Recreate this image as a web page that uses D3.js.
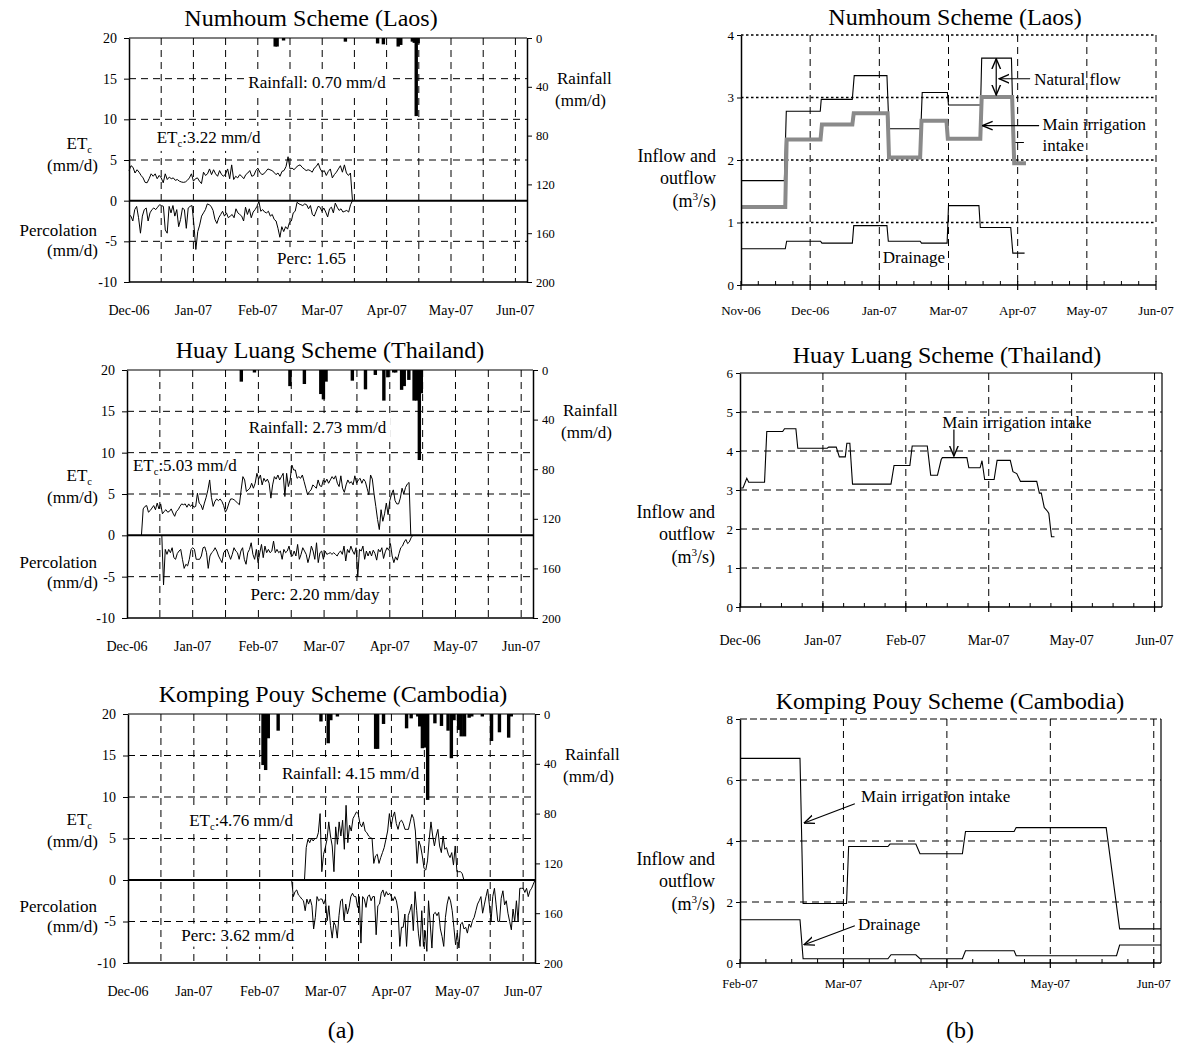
<!DOCTYPE html>
<html>
<head>
<meta charset="utf-8">
<script src="https://cdn.jsdelivr.net/npm/d3@7/dist/d3.min.js"></script>
<style>
  body { margin: 0; background: #fff; }
  svg text { font-family: "Liberation Serif", "Times New Roman", serif; fill: #000; }
</style>
</head>
<body>
<svg id="chart" width="1182" height="1049"></svg>
<script>
// ---- tick labels ----
const aMonthLabels = ['Dec-06', 'Jan-07', 'Feb-07', 'Mar-07', 'Apr-07', 'May-07', 'Jun-07'];
const b1MonthLabels = ['Nov-06', 'Dec-06', 'Jan-07', 'Mar-07', 'Apr-07', 'May-07', 'Jun-07'];
const b2MonthLabels = ['Dec-06', 'Jan-07', 'Feb-07', 'Mar-07', 'May-07', 'Jun-07'];
const b3MonthLabels = ['Feb-07', 'Mar-07', 'Apr-07', 'May-07', 'Jun-07'];
const etTicks = [-10, -5, 0, 5, 10, 15, 20];
const rainTicks = [0, 40, 80, 120, 160, 200];

// ---- (a) daily water balance, x in months after Dec-06 ----
// Numhoum (Laos)
const laosEtcSpan = [0, 3.47];
const laosEtc = [3.7, 4.3, 4.1, 3.4, 3.8, 3.5, 3.1, 2.8, 2.25, 2.2,
  2.7, 3.3, 3.0, 3.3, 2.7, 3.1, 2.8, 2.2, 3.3, 2.6,
  2.9, 2.7, 2.8, 2.5, 2.6, 2.4, 2.3, 2.25, 2.3, 2.5,
  2.8, 3.3, 2.4, 2.7, 2.8, 2.4, 2.1, 3.5, 3.1, 3.3,
  3.9, 3.2, 3.8, 3.3, 3.0, 3.7, 3.2, 3.0, 3.3, 3.9,
  2.7, 4.4, 2.6, 3.0, 2.8, 3.2, 3.0, 2.7, 3.2, 3.4,
  3.7, 3.0, 3.1, 3.7, 4.0, 3.5, 3.2, 3.3, 3.6, 3.9,
  3.8, 3.7, 3.5, 3.2, 3.4, 3.0, 3.6, 3.7, 4.2, 5.4,
  3.9, 4.0, 3.8, 4.1, 4.3, 4.4, 4.1, 3.9, 3.7, 3.8,
  3.7, 3.5, 4.0, 4.2, 4.6, 3.9, 3.5, 3.7, 3.1, 3.6,
  3.9, 2.8, 3.2, 3.5, 3.9, 4.3, 3.5, 4.4, 3.4, 3.1, 3.4, 0];
const laosPercSpan = [0, 3.47];
const laosPerc = [-1.7, -1.9, -2.5, -1.1, -0.7, -2.1, -4.0, -1.9, -1.1, -0.9,
  -2.5, -1.5, -1.1, -0.9, -1.1, -0.8, -0.5, -0.6, -0.7, -3.6,
  -4.0, -0.7, -1.5, -0.6, -1.9, -1.1, -3.2, -2.3, -0.9, -1.1,
  -3.4, -0.9, -0.7, -0.6, -3.0, -6.0, -3.8, -3.0, -1.9, -1.5,
  -1.1, -0.4, -0.5, -0.7, -1.2, -2.3, -2.8, -2.1, -1.7, -1.3,
  -1.9, -1.5, -2.1, -1.9, -1.7, -2.1, -1.0, -1.5, -1.7, -1.9,
  -2.5, -0.8, -1.7, -1.0, -2.1, -1.4, -1.1, -0.7, -0.1, -1.3,
  -1.1, -1.4, -1.5, -1.3, -1.9, -1.7, -2.3, -2.5, -3.4, -4.5,
  -3.2, -3.8, -3.2, -3.5, -2.7, -2.5, -1.5, -1.3, -0.2, -0.4,
  -0.5, -0.6, -0.4, -0.5, -1.0, -0.6, -1.7, -1.9, -1.3, -0.7,
  -0.8, -1.3, -0.9, -1.4, -2.0, -1.0, -0.8, -1.5, -0.3, -0.8,
  -1.2, -1.0, -1.4, -1.3, -1.2, -1.4, -0.5, 0];
const laosRainMonth = [2.27, 2.30, 2.40, 3.36, 3.86, 3.95, 4.18, 4.22, 4.40, 4.43, 4.46, 4.49];
const laosRainMm = [7, 7, 2, 3, 4.5, 5.2, 7, 5.7, 3, 4, 64, 4.4];

// Huay Luang (Thailand)
const thaiEtcSpan = [0.22, 4.32];
const thaiEtc = [0, 3.2, 3.5, 3.6, 2.8, 3.0, 3.3, 3.6, 3.1, 3.9,
  3.2, 3.8, 2.6, 2.9, 3.1, 2.8, 2.9, 3.2, 2.7, 2.3,
  2.9, 3.1, 3.5, 3.8, 3.7, 3.8, 3.4, 3.8, 3.5, 3.7,
  3.4, 3.5, 5.1, 3.9, 3.7, 3.1, 3.9, 4.6, 5.5, 6.7,
  4.6, 3.5, 4.1, 4.4, 4.2, 4.4, 4.1, 3.6, 2.8, 3.2,
  3.9, 4.4, 4.4, 4.3, 4.1, 3.9, 3.7, 5.5, 7.1, 6.7,
  5.3, 5.5, 5.7, 6.3, 5.7, 6.3, 7.5, 6.8, 7.3, 6.1,
  6.9, 6.5, 6.8, 6.3, 4.5, 6.1, 7.1, 6.8, 7.3, 6.7,
  7.1, 7.5, 4.7, 7.5, 5.9, 6.7, 8.5, 7.9, 7.9, 6.9,
  7.1, 6.9, 7.3, 6.5, 5.7, 4.9, 5.3, 5.5, 6.1, 5.9,
  5.7, 6.7, 6.0, 5.9, 6.7, 6.4, 6.8, 6.3, 6.7, 7.1,
  6.8, 7.2, 6.3, 5.9, 7.2, 5.7, 5.2, 6.1, 6.7, 6.3,
  6.5, 6.1, 7.2, 6.3, 6.7, 6.9, 6.3, 6.8, 6.5, 5.7,
  4.9, 7.3, 6.8, 5.0, 3.5, 1.9, 0.7, 3.1, 1.7, 2.6,
  3.9, 2.5, 4.2, 5.0, 5.5, 4.2, 3.8, 3.8, 4.5, 5.7,
  5.0, 5.8, 6.2, 6.4, 0];
const thaiPercSpan = [0.53, 4.35];
const thaiPerc = [0, -6.0, -1.7, -2.3, -1.7, -2.1, -1.5, -2.7, -2.9, -2.2,
  -1.9, -1.7, -2.9, -4.0, -3.5, -3.7, -2.9, -1.7, -1.5, -1.7,
  -2.9, -2.9, -2.9, -2.5, -1.5, -1.4, -2.1, -4.0, -2.5, -2.1,
  -1.9, -1.5, -1.9, -2.5, -2.9, -3.3, -2.1, -1.8, -1.7, -2.3,
  -2.9, -2.3, -1.5, -1.9, -2.1, -2.9, -1.9, -1.5, -2.9, -3.5,
  -2.1, -1.7, -0.9, -2.3, -2.9, -1.7, -3.3, -2.1, -1.1, -2.7,
  -1.3, -2.1, -1.7, -2.1, -1.9, -0.7, -2.1, -1.7, -2.1, -1.9,
  -2.9, -1.7, -2.1, -1.9, -1.3, -2.3, -2.5, -1.9, -2.5, -1.1,
  -2.9, -2.3, -1.5, -1.9, -2.3, -3.3, -2.5, -1.3, -1.9, -2.9,
  -0.9, -3.3, -2.1, -1.9, -2.9, -1.9, -2.3, -2.2, -2.1, -2.3,
  -2.1, -2.3, -2.5, -2.1, -1.9, -2.3, -1.3, -3.1, -1.7, -2.1,
  -1.3, -1.9, -2.3, -1.5, -5.0, -1.7, -1.9, -1.3, -2.9, -1.9,
  -2.5, -1.9, -2.5, -1.8, -2.2, -3.0, -1.7, -2.0, -1.5, -2.8,
  -2.0, -1.5, -1.8, -1.0, -2.5, -3.3, -2.6, -3.0, -2.2, -1.5,
  -1.3, -0.8, -0.5, -1.0, -0.8, -0.3, 0];
const thaiRainMonth = [1.74, 1.94, 2.48, 2.70, 2.95, 2.99, 3.03, 3.43, 3.63, 3.78, 3.91,
  3.97, 4.06, 4.09, 4.18, 4.22, 4.29, 4.37, 4.41, 4.45, 4.48];
const thaiRainMm = [9.4, 2, 13, 11.3, 19.4, 23.7, 9.4, 8.6, 15.6, 4, 24.7,
  5.9, 1.4, 2, 16, 13, 8, 24.7, 24.7, 72.6, 18.8];

// Komping Pouy (Cambodia)
const cambEtcSpan = [2.68, 5.10];
const cambEtc = [0, 3.9, 4.9, 4.5, 5.0, 4.7, 5.0, 5.0, 5.7, 8.0,
  1.0, 3.1, 3.9, 4.9, 7.0, 5.3, 4.1, 1.0, 6.4, 4.3,
  7.0, 5.3, 7.2, 3.7, 9.0, 4.5, 6.6, 5.9, 7.4, 7.8,
  8.2, 8.0, 6.8, 6.4, 7.0, 5.9, 5.7, 5.3, 5.1, 5.0,
  2.0, 2.9, 3.1, 2.0, 2.7, 3.3, 3.9, 4.9, 5.9, 8.0,
  6.4, 7.6, 8.2, 6.8, 6.1, 7.0, 7.2, 6.8, 6.1, 6.1,
  6.1, 7.0, 7.9, 7.4, 5.9, 2.0, 4.7, 4.1, 2.9, 1.4,
  1.2, 2.3, 4.9, 7.0, 5.3, 4.1, 5.3, 6.1, 4.1, 3.3,
  5.3, 3.7, 3.9, 3.1, 2.7, 3.3, 1.8, 4.1, 1.0, 1.0,
  1.0, 0.8, 0];
const cambPercSpan = [2.485, 6.18];
const cambPerc = [0, -2.0, -1.4, -1.2, -1.8, -2.0, -2.3, -2.5, -3.7, -2.3,
  -2.9, -2.3, -3.1, -5.9, -4.5, -2.0, -2.5, -2.3, -2.3, -2.9,
  -2.3, -4.9, -3.1, -5.5, -7.0, -5.1, -5.5, -7.0, -4.3, -2.5,
  -2.3, -4.9, -2.9, -4.1, -3.3, -2.0, -1.6, -2.0, -2.0, -3.3,
  -2.0, -7.6, -2.0, -2.3, -3.3, -2.0, -1.8, -2.5, -2.0, -2.0,
  -6.6, -3.1, -2.9, -1.6, -1.2, -2.0, -1.4, -1.8, -1.6, -2.0,
  -2.5, -2.0, -2.5, -3.7, -8.0, -5.7, -5.7, -4.1, -8.0, -4.3,
  -3.7, -2.9, -6.1, -1.4, -3.7, -6.4, -8.0, -3.7, -8.0, -6.1,
  -8.6, -2.5, -5.3, -8.2, -4.1, -3.9, -4.3, -3.9, -5.9, -6.8,
  -8.0, -4.5, -2.9, -2.0, -2.5, -3.7, -5.7, -7.8, -6.4, -8.2,
  -5.3, -5.1, -5.9, -5.7, -6.4, -5.3, -5.7, -4.9, -4.5, -3.7,
  -2.9, -2.5, -2.0, -4.0, -3.0, -2.0, -1.1, -3.0, -5.0, -2.0,
  -1.0, -3.0, -5.0, -5.0, -2.2, -1.3, -3.0, -2.5, -4.0, -5.0,
  -6.0, -3.5, -5.0, -2.5, -5.0, -1.0, -1.0, -1.0, -1.5, -1.0,
  -2.0, -1.3, -1.0, -0.5, 0];
const cambRainMonth = [2.05, 2.09, 2.13, 2.28, 2.93, 3.04, 3.08, 3.18, 3.76, 3.79, 3.88,
  4.23, 4.30, 4.40, 4.43, 4.47, 4.51, 4.55, 4.66, 4.76, 4.86, 4.91, 4.95,
  5.02, 5.06, 5.11, 5.18, 5.22, 5.38, 5.52, 5.64, 5.78, 5.82];
const cambRainMm = [41, 45, 19.5, 13.4, 6, 23.5, 5, 2, 28, 28, 8,
  11.5, 3.5, 2, 10, 27.5, 27, 69, 7.5, 9.6, 13.4, 35.5, 5,
  12.8, 18, 18, 3, 2, 2, 21.7, 14.7, 19, 2];

// ---- (b) scheme flows, x in months after first label ----
const laosNaturalMonth = [0, 0.627, 0.655, 1.146, 1.16, 1.609, 1.637, 2.11, 2.14, 2.60, 2.62, 2.984, 3.0, 3.464, 3.48, 3.91, 3.94, 4.09];
const laosNaturalFlow = [1.67, 1.67, 2.78, 2.78, 2.97, 2.97, 3.35, 3.35, 2.50, 2.50, 3.08, 3.08, 2.88, 2.88, 3.63, 3.63, 2.28, 2.28];
const laosIntakeMonth = [0, 0.64, 0.66, 1.15, 1.17, 1.61, 1.63, 2.12, 2.14, 2.59, 2.61, 2.97, 2.99, 3.46, 3.48, 3.92, 3.95, 4.12];
const laosIntakeFlow = [1.25, 1.25, 2.33, 2.33, 2.57, 2.57, 2.75, 2.75, 2.04, 2.04, 2.63, 2.63, 2.34, 2.34, 3.01, 3.01, 1.95, 1.95];
const laosDrainMonth = [0, 0.64, 0.66, 1.15, 1.17, 1.61, 1.63, 2.11, 2.13, 2.59, 2.61, 2.98, 3.0, 3.44, 3.46, 3.90, 3.93, 4.10];
const laosDrainFlow = [0.58, 0.58, 0.70, 0.70, 0.67, 0.67, 0.95, 0.95, 0.70, 0.70, 0.67, 0.67, 1.27, 1.27, 0.92, 0.92, 0.51, 0.51];

const thaiIntakeMonth = [0.014, 0.036, 0.082, 0.105, 0.296, 0.323, 0.515, 0.537, 0.674, 0.697, 1.052, 1.07,
  1.161, 1.198, 1.27, 1.289, 1.325, 1.357, 1.821, 1.858, 2.049, 2.077, 2.259, 2.30, 2.382, 2.427, 2.441,
  2.737, 2.76, 2.896, 2.919, 2.951, 3.065, 3.101, 3.26, 3.292, 3.338, 3.383, 3.579, 3.611, 3.634, 3.67,
  3.711, 3.725, 3.757, 3.793];
const thaiIntakeFlow = [3.05, 3.05, 3.3, 3.2, 3.2, 4.5, 4.5, 4.57, 4.57, 4.07, 4.07, 4.1,
  4.1, 3.85, 3.85, 4.2, 4.2, 3.15, 3.15, 3.63, 3.63, 4.13, 4.13, 3.38, 3.38, 3.78, 3.83,
  3.83, 3.57, 3.57, 3.75, 3.27, 3.27, 3.76, 3.76, 3.47, 3.42, 3.22, 3.22, 2.92, 2.92, 2.55,
  2.45, 2.4, 1.8, 1.8];

const cambIntakeMonth = [0, 0.58, 0.61, 1.03, 1.05, 1.43, 1.45, 1.70, 1.74, 2.15, 2.18, 2.65, 2.67, 3.54, 3.67, 4.07];
const cambIntakeFlow = [6.71, 6.71, 1.95, 1.95, 3.82, 3.82, 3.90, 3.90, 3.58, 3.58, 4.31, 4.31, 4.44, 4.44, 1.12, 1.12];
const cambDrainMonth = [0, 0.58, 0.61, 1.43, 1.46, 1.70, 1.74, 2.15, 2.18, 2.65, 2.67, 3.64, 3.67, 4.07];
const cambDrainFlow = [1.42, 1.42, 0.14, 0.14, 0.27, 0.27, 0.14, 0.14, 0.40, 0.40, 0.24, 0.24, 0.59, 0.59];

// ---------------------------------------------------------------
const svg = d3.select('#chart');
svg.append('rect').attr('width', 1182).attr('height', 1049).attr('fill', '#fff');

const defs = svg.append('defs');
defs.append('marker')
  .attr('id', 'arrow')
  .attr('viewBox', '0 0 10 10')
  .attr('refX', 9.5).attr('refY', 5)
  .attr('markerWidth', 9).attr('markerHeight', 9)
  .attr('orient', 'auto-start-reverse')
  .append('path')
  .attr('d', 'M0,1 L9.5,5 L0,9')
  .attr('fill', 'none').attr('stroke', '#000').attr('stroke-width', 1.3);

const spread = (span, vals) =>
  vals.map((v, i) => [span[0] + i * (span[1] - span[0]) / (vals.length - 1), v]);
const plain = d => String(d);

// text with optional sub/superscript pieces: [[str, 'sub'|'sup'|null], ...]
function richText(sel, parts, size) {
  const t = sel.append('text').attr('font-size', size);
  let shift = 0;
  parts.forEach(([s, kind]) => {
    const want = kind === 'sub' ? 4 : kind === 'sup' ? -7 : 0;
    t.append('tspan')
      .attr('dy', want - shift)
      .attr('font-size', kind ? size * 0.62 : size)
      .text(s);
    shift = want;
  });
  return t;
}

function note(textLayer, boxLayer, px, py, parts, size, anchor) {
  const t = richText(textLayer, parts, size)
    .attr('x', px).attr('y', py)
    .attr('text-anchor', anchor || 'start');
  const b = t.node().getBBox();
  boxLayer.append('rect')
    .attr('x', b.x - 4).attr('y', b.y - 2)
    .attr('width', b.width + 8).attr('height', b.height + 4)
    .attr('fill', '#fff');
}

function drawDaily(p) {
  const g = svg.append('g');
  const x = d3.scaleLinear().domain([0, p.xMax]).range([p.left, p.right]);
  const y = d3.scaleLinear().domain([-10, 20]).range([p.bottom, p.top]);
  const yr = d3.scaleLinear().domain([0, 200]).range([p.top, p.bottom]);

  const grid = g.append('g').attr('stroke', '#000').attr('stroke-width', 1).attr('stroke-dasharray', '7,5');
  grid.selectAll('line.v').data(d3.range(1, 13).map(i => i / 2)).join('line')
    .attr('x1', d => x(d)).attr('x2', d => x(d))
    .attr('y1', p.top).attr('y2', p.bottom);
  grid.selectAll('line.h').data([15, 10, 5, -5]).join('line')
    .attr('x1', p.left).attr('x2', p.right)
    .attr('y1', d => y(d)).attr('y2', d => y(d));

  const boxes = g.append('g');
  const data = g.append('g');
  const texts = g.append('g');

  const line = d3.line().x(d => x(d[0])).y(d => y(d[1]));
  data.append('path').datum(spread(p.etcSpan, p.etc))
    .attr('d', line).attr('fill', 'none').attr('stroke', '#000').attr('stroke-width', 1);
  data.append('path').datum(spread(p.percSpan, p.perc))
    .attr('d', line).attr('fill', 'none').attr('stroke', '#000').attr('stroke-width', 1);

  data.selectAll('rect.rain').data(d3.zip(p.rainMonth, p.rainMm)).join('rect')
    .attr('x', d => x(d[0]) - 1.7).attr('width', 3.4)
    .attr('y', yr(0)).attr('height', d => Math.max(2.5, yr(d[1]) - yr(0)))
    .attr('fill', '#000');

  // frame
  g.append('line').attr('x1', p.left).attr('x2', p.right).attr('y1', y(0)).attr('y2', y(0))
    .attr('stroke', '#000').attr('stroke-width', 2);
  g.append('line').attr('x1', p.left).attr('x2', p.right).attr('y1', p.top).attr('y2', p.top)
    .attr('stroke', '#000').attr('stroke-width', 1.2);
  g.append('line').attr('x1', p.left).attr('x2', p.right).attr('y1', p.bottom).attr('y2', p.bottom)
    .attr('stroke', '#000').attr('stroke-width', 1.6);

  const la = g.append('g').attr('transform', `translate(${p.left},0)`)
    .call(d3.axisLeft(y).tickValues(etTicks).tickFormat(plain).tickSize(5).tickSizeOuter(0).tickPadding(7));
  const ra = g.append('g').attr('transform', `translate(${p.right},0)`)
    .call(d3.axisRight(yr).tickValues(rainTicks).tickFormat(plain).tickSize(5).tickSizeOuter(0).tickPadding(4));
  [la, ra].forEach(a => {
    a.select('.domain').attr('stroke-width', 1.5);
    a.selectAll('text').attr('font-family', null);
  });
  la.selectAll('text').attr('font-size', 14);
  ra.selectAll('text').attr('font-size', 12.5);

  g.selectAll('text.xl').data(aMonthLabels).join('text')
    .attr('x', (d, i) => x(i)).attr('y', p.bottom + 33)
    .attr('text-anchor', 'middle').attr('font-size', 14).text(d => d);

  g.append('text').attr('x', p.titleX).attr('y', p.top - 12)
    .attr('text-anchor', 'middle').attr('font-size', 24).text(p.title);

  // axis titles
  richText(g, [['ET'], ['c', 'sub']], 17).attr('x', 92).attr('y', p.top + 111).attr('text-anchor', 'end');
  g.append('text').attr('x', 98).attr('y', p.top + 133).attr('text-anchor', 'end').attr('font-size', 17).text('(mm/d)');
  g.append('text').attr('x', 97).attr('y', p.top + 198).attr('text-anchor', 'end').attr('font-size', 17).text('Percolation');
  g.append('text').attr('x', 98).attr('y', p.top + 218).attr('text-anchor', 'end').attr('font-size', 17).text('(mm/d)');
  g.append('text').attr('x', p.right + 30).attr('y', p.top + 46).attr('font-size', 17).text('Rainfall');
  g.append('text').attr('x', p.right + 28).attr('y', p.top + 68).attr('font-size', 17).text('(mm/d)');

  note(texts, boxes, x(p.rainNote[0]), y(p.rainNote[1]), [[p.rainText]], 17, 'middle');
  note(texts, boxes, x(p.etcNote[0]), y(p.etcNote[1]), [['ET'], ['c', 'sub'], [p.etcText]], 17);
  note(texts, boxes, x(p.percNote[0]), y(p.percNote[1]), [[p.percText]], 17);
}

function drawFlow(p) {
  const g = svg.append('g');
  const x = d3.scaleLinear().domain([0, p.xMax]).range([p.left, p.right]);
  const y = d3.scaleLinear().domain([0, p.yMax]).range([p.bottom, p.top]);

  const vg = g.append('g').attr('stroke', '#000').attr('stroke-width', 1).attr('stroke-dasharray', '7,5');
  vg.selectAll('line').data(d3.range(1, p.labels.length)).join('line')
    .attr('x1', d => x(d)).attr('x2', d => x(d)).attr('y1', p.top).attr('y2', p.bottom);
  const hg = g.append('g').attr('stroke', '#000')
    .attr('stroke-width', p.hWidth).attr('stroke-dasharray', p.hDash);
  hg.selectAll('line').data(p.hGrid).join('line')
    .attr('x1', p.left).attr('x2', p.right).attr('y1', d => y(d)).attr('y2', d => y(d));
  if (p.topDash) {
    g.append('line').attr('x1', p.left).attr('x2', p.right).attr('y1', p.top).attr('y2', p.top)
      .attr('stroke', '#000').attr('stroke-width', p.hWidth).attr('stroke-dasharray', p.topDash);
  } else {
    g.append('line').attr('x1', p.left).attr('x2', p.right).attr('y1', p.top).attr('y2', p.top)
      .attr('stroke', '#000').attr('stroke-width', 1.2);
  }
  if (p.rightSolid) {
    g.append('line').attr('x1', p.right).attr('x2', p.right).attr('y1', p.top).attr('y2', p.bottom)
      .attr('stroke', '#000').attr('stroke-width', 1.2);
  }

  const line = d3.line().x(d => x(d[0])).y(d => y(d[1]));
  p.series.forEach(s => {
    g.append('path').datum(d3.zip(s.month, s.flow))
      .attr('d', line).attr('fill', 'none')
      .attr('stroke', s.color).attr('stroke-width', s.width);
  });

  // axes
  const la = g.append('g').attr('transform', `translate(${p.left},0)`)
    .call(d3.axisLeft(y).tickValues(p.yTicks).tickFormat(plain).tickSize(4).tickSizeOuter(0).tickPadding(3));
  la.select('.domain').attr('stroke-width', 1.5);
  la.selectAll('text').attr('font-family', null).attr('font-size', 13);

  g.append('line').attr('x1', p.left).attr('x2', p.right).attr('y1', p.bottom).attr('y2', p.bottom)
    .attr('stroke', '#000').attr('stroke-width', 1.6);
  const minor = d3.range(1, Math.floor(p.xMax * 4) + 1).map(i => i / 4).filter(d => d % 1 !== 0);
  g.selectAll('line.mn').data(minor).join('line')
    .attr('x1', d => x(d)).attr('x2', d => x(d))
    .attr('y1', p.bottom).attr('y2', p.bottom - 4)
    .attr('stroke', '#000').attr('stroke-width', 1);
  g.selectAll('line.mj').data(d3.range(0, p.labels.length)).join('line')
    .attr('x1', d => x(d)).attr('x2', d => x(d))
    .attr('y1', p.bottom - 4).attr('y2', p.bottom + 5)
    .attr('stroke', '#000').attr('stroke-width', 1.2);
  g.selectAll('text.xl').data(p.labels).join('text')
    .attr('x', (d, i) => x(i)).attr('y', p.bottom + p.labelDy)
    .attr('text-anchor', 'middle').attr('font-size', p.labelSize).text(d => d);

  g.append('text').attr('x', p.titleX).attr('y', p.top - 10)
    .attr('text-anchor', 'middle').attr('font-size', 24).text(p.title);

  const ax = p.left - 25;
  g.append('text').attr('x', ax).attr('y', p.axisY).attr('text-anchor', 'end').attr('font-size', 18).text('Inflow and');
  g.append('text').attr('x', ax).attr('y', p.axisY + 22).attr('text-anchor', 'end').attr('font-size', 18).text('outflow');
  richText(g, [['(m'], ['3', 'sup'], ['/s)']], 18).attr('x', ax).attr('y', p.axisY + 45).attr('text-anchor', 'end');

  p.notes.forEach(n => {
    n.lines.forEach((s, i) => {
      g.append('text').attr('x', x(n.at[0])).attr('y', y(n.at[1]) + 6 + i * 21)
        .attr('text-anchor', n.anchor || 'start').attr('font-size', 17).text(s);
    });
  });
  p.arrows.forEach(a => {
    g.append('line')
      .attr('x1', x(a.from[0])).attr('y1', y(a.from[1]))
      .attr('x2', x(a.to[0])).attr('y2', y(a.to[1]))
      .attr('stroke', '#000').attr('stroke-width', 1.2)
      .attr('marker-end', 'url(#arrow)');
  });
}

// ---- (a) panels ----
drawDaily({
  title: 'Numhoum Scheme (Laos)', titleX: 311,
  left: 129, right: 527, top: 38, bottom: 282, xMax: 6.18,
  etc: laosEtc, etcSpan: laosEtcSpan, perc: laosPerc, percSpan: laosPercSpan,
  rainMonth: laosRainMonth, rainMm: laosRainMm,
  rainText: 'Rainfall: 0.70 mm/d', rainNote: [2.92, 13.9],
  etcText: ':3.22 mm/d', etcNote: [0.43, 7.1],
  percText: 'Perc: 1.65', percNote: [2.30, -7.8]
});
drawDaily({
  title: 'Huay Luang Scheme (Thailand)', titleX: 330,
  left: 127, right: 533, top: 370, bottom: 618, xMax: 6.18,
  etc: thaiEtc, etcSpan: thaiEtcSpan, perc: thaiPerc, percSpan: thaiPercSpan,
  rainMonth: thaiRainMonth, rainMm: thaiRainMm,
  rainText: 'Rainfall: 2.73 mm/d', rainNote: [2.90, 12.4],
  etcText: ':5.03 mm/d', etcNote: [0.09, 7.8],
  percText: 'Perc: 2.20 mm/day', percNote: [1.88, -7.8]
});
drawDaily({
  title: 'Komping Pouy Scheme (Cambodia)', titleX: 333,
  left: 128, right: 535, top: 714, bottom: 963, xMax: 6.18,
  etc: cambEtc, etcSpan: cambEtcSpan, perc: cambPerc, percSpan: cambPercSpan,
  rainMonth: cambRainMonth, rainMm: cambRainMm,
  rainText: 'Rainfall: 4.15 mm/d', rainNote: [3.38, 12.2],
  etcText: ':4.76 mm/d', etcNote: [0.93, 6.5],
  percText: 'Perc: 3.62 mm/d', percNote: [0.81, -7.3]
});

// ---- (b) panels ----
drawFlow({
  title: 'Numhoum Scheme (Laos)', titleX: 955,
  left: 741, right: 1156, top: 35, bottom: 285, xMax: 6, yMax: 4,
  yTicks: [0, 1, 2, 3, 4], hGrid: [1, 2, 3], hDash: '2.5,2.5', hWidth: 1.6, topDash: '2.5,2.5',
  rightSolid: false, labels: b1MonthLabels, labelDy: 30, labelSize: 13, axisY: 162,
  series: [
    { month: laosNaturalMonth, flow: laosNaturalFlow, color: '#000', width: 1.1 },
    { month: laosIntakeMonth, flow: laosIntakeFlow, color: '#8a8a8a', width: 4 },
    { month: laosDrainMonth, flow: laosDrainFlow, color: '#000', width: 1.1 }
  ],
  notes: [
    { at: [4.24, 3.30], lines: ['Natural flow'] },
    { at: [4.36, 2.58], lines: ['Main irrigation', 'intake'] },
    { at: [2.05, 0.45], lines: ['Drainage'] }
  ],
  arrows: [
    { from: [3.69, 3.33], to: [3.69, 3.62] },
    { from: [3.69, 3.33], to: [3.69, 3.04] },
    { from: [4.18, 3.30], to: [3.73, 3.30] },
    { from: [4.31, 2.55], to: [3.49, 2.55] }
  ]
});
drawFlow({
  title: 'Huay Luang Scheme (Thailand)', titleX: 947,
  left: 740, right: 1162, top: 373, bottom: 607, xMax: 5.09, yMax: 6,
  yTicks: [0, 1, 2, 3, 4, 5, 6], hGrid: [1, 2, 3, 4, 5], hDash: '7,5', hWidth: 1,
  rightSolid: true, labels: b2MonthLabels, labelDy: 38, labelSize: 14, axisY: 518,
  series: [
    { month: thaiIntakeMonth, flow: thaiIntakeFlow, color: '#000', width: 1.1 }
  ],
  notes: [
    { at: [3.34, 4.75], lines: ['Main irrigation intake'], anchor: 'middle' }
  ],
  arrows: [
    { from: [2.58, 4.55], to: [2.58, 3.87] }
  ]
});
drawFlow({
  title: 'Komping Pouy Scheme (Cambodia)', titleX: 950,
  left: 740, right: 1161, top: 719, bottom: 963, xMax: 4.07, yMax: 8,
  yTicks: [0, 2, 4, 6, 8], hGrid: [2, 4, 6], hDash: '7,5', hWidth: 1, topDash: '7,3',
  rightSolid: true, labels: b3MonthLabels, labelDy: 25, labelSize: 12.5, axisY: 865,
  series: [
    { month: cambIntakeMonth, flow: cambIntakeFlow, color: '#000', width: 1.1 },
    { month: cambDrainMonth, flow: cambDrainFlow, color: '#000', width: 1.1 }
  ],
  notes: [
    { at: [1.17, 5.46], lines: ['Main irrigation intake'] },
    { at: [1.14, 1.28], lines: ['Drainage'] }
  ],
  arrows: [
    { from: [1.11, 5.22], to: [0.62, 4.59] },
    { from: [1.11, 1.22], to: [0.62, 0.60] }
  ]
});

svg.append('text').attr('x', 341).attr('y', 1038).attr('text-anchor', 'middle').attr('font-size', 24).text('(a)');
svg.append('text').attr('x', 960).attr('y', 1038).attr('text-anchor', 'middle').attr('font-size', 24).text('(b)');
</script>
</body>
</html>
